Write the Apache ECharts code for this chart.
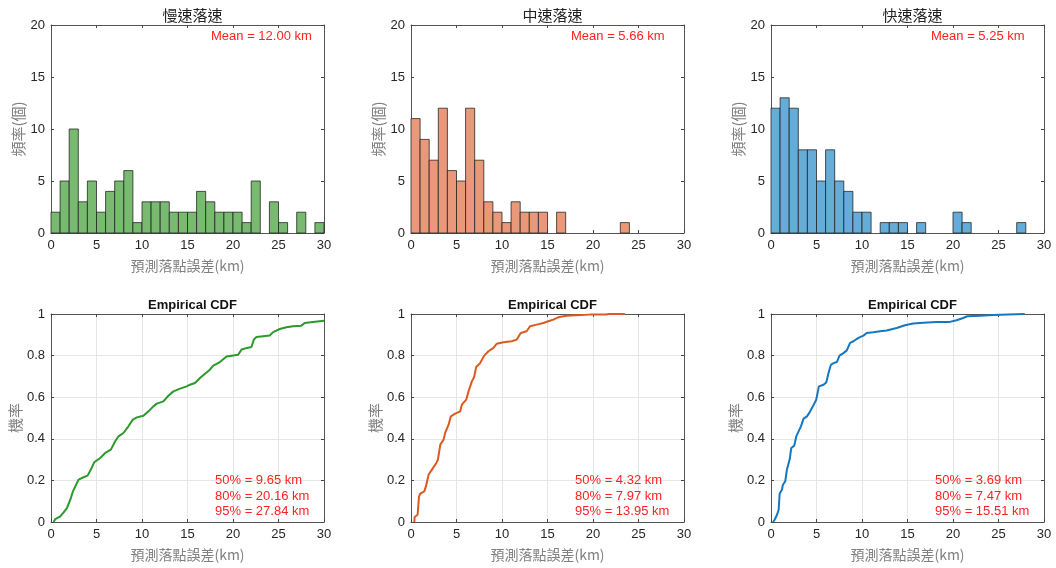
<!DOCTYPE html>
<html>
<head>
<meta charset="utf-8">
<title>落點誤差</title>
<script src="https://cdn.jsdelivr.net/npm/echarts@6/dist/echarts.min.js"></script>
<style>
  html, body { margin: 0; padding: 0; background: #fff; }
  #chart { width: 1056px; height: 568px; }
</style>
</head>
<body>
<div id="chart"></div>
<script>
// histogram bins (left edge, width 1 km)
var binLeft = [0, 1, 2, 3, 4, 5, 6, 7, 8, 9, 10, 11, 12, 13, 14, 15, 16, 17, 18, 19, 20, 21, 22, 23, 24, 25, 26, 27, 28, 29];
var slowCounts = [2, 5, 10, 3, 5, 2, 4, 5, 6, 1, 3, 3, 3, 2, 2, 2, 4, 3, 2, 2, 2, 1, 5, 0, 3, 1, 0, 2, 0, 1];
var mediumCounts = [11, 9, 7, 12, 6, 5, 12, 7, 3, 2, 1, 3, 2, 2, 2, 0, 2, 0, 0, 0, 0, 0, 0, 1, 0, 0, 0, 0, 0, 0];
var fastCounts = [12, 13, 12, 8, 8, 5, 8, 5, 4, 2, 2, 0, 1, 1, 1, 0, 1, 0, 0, 0, 2, 1, 0, 0, 0, 0, 0, 1, 0, 0];

// empirical CDF
var slowCdfX = [0.29, 0.47, 1.02, 1.39, 1.75, 2.12, 2.41, 2.67, 3.03, 3.58, 4.02, 4.38, 4.75, 5.41, 5.96, 6.58, 7.05, 7.42, 7.96, 8.51, 8.99, 9.43, 10.16, 10.71, 11.25, 11.62, 12.35, 12.9, 13.45, 14.18, 14.91, 15.27, 15.82, 16.37, 16.92, 17.46, 17.83, 18.56, 19.29, 20.02, 20.57, 20.94, 21.56, 22.03, 22.29, 22.58, 23.31, 24.04, 24.41, 25.14, 25.87, 26.6, 27.51, 27.88, 28.79, 30];
var slowCdfY = [0.0, 0.014, 0.027, 0.046, 0.067, 0.107, 0.147, 0.171, 0.204, 0.215, 0.223, 0.252, 0.287, 0.308, 0.332, 0.348, 0.388, 0.412, 0.428, 0.46, 0.492, 0.503, 0.511, 0.532, 0.556, 0.569, 0.58, 0.607, 0.628, 0.641, 0.652, 0.66, 0.668, 0.692, 0.713, 0.732, 0.752, 0.769, 0.796, 0.801, 0.804, 0.829, 0.837, 0.841, 0.877, 0.889, 0.893, 0.897, 0.913, 0.928, 0.936, 0.941, 0.944, 0.957, 0.962, 0.968];
var mediumCdfX = [0.37, 0.4, 0.73, 0.88, 1.02, 1.46, 1.64, 1.94, 2.3, 2.78, 2.96, 3.22, 3.58, 3.76, 4.13, 4.38, 4.86, 5.41, 5.59, 6.07, 6.32, 6.69, 6.94, 7.16, 7.6, 8.04, 8.51, 9.06, 9.43, 10.16, 11.07, 11.62, 12.06, 12.71, 13.08, 13.81, 14.54, 15.09, 15.64, 16.29, 17.1, 19.66, 21.48, 21.7, 23.5];
var mediumCdfY = [0.0, 0.024, 0.035, 0.123, 0.136, 0.147, 0.171, 0.228, 0.252, 0.284, 0.3, 0.372, 0.396, 0.428, 0.468, 0.508, 0.521, 0.532, 0.564, 0.588, 0.628, 0.676, 0.697, 0.745, 0.764, 0.8, 0.821, 0.837, 0.857, 0.864, 0.869, 0.877, 0.909, 0.917, 0.941, 0.949, 0.957, 0.965, 0.973, 0.986, 0.992, 0.997, 0.998, 1, 1];
var fastCdfX = [0.22, 0.4, 0.66, 0.84, 0.95, 1.2, 1.31, 1.57, 1.75, 2.05, 2.23, 2.56, 2.78, 3.03, 3.29, 3.58, 3.95, 4.24, 4.6, 4.97, 5.26, 5.77, 6.07, 6.32, 6.58, 6.87, 7.23, 7.53, 7.96, 8.33, 8.69, 9.06, 9.6, 10.16, 10.52, 11.25, 11.98, 12.71, 13.81, 14.72, 15.64, 16.73, 18.19, 19.66, 20.39, 21.12, 21.56, 22.95, 24.41, 26.05, 27.88];
var fastCdfY = [0.0, 0.011, 0.035, 0.059, 0.136, 0.155, 0.179, 0.196, 0.252, 0.3, 0.356, 0.367, 0.412, 0.436, 0.46, 0.497, 0.508, 0.527, 0.556, 0.588, 0.652, 0.66, 0.671, 0.716, 0.756, 0.764, 0.769, 0.8, 0.812, 0.825, 0.861, 0.869, 0.885, 0.896, 0.909, 0.912, 0.917, 0.921, 0.933, 0.946, 0.954, 0.958, 0.962, 0.962, 0.97, 0.981, 0.989, 0.992, 0.995, 0.998, 1];

var panelTitles = ['慢速落速', '中速落速', '快速落速'];
var meanLabels = ['Mean = 12.00 km', 'Mean = 5.66 km', 'Mean = 5.25 km'];
var pctLabels = [
    ['50% = 9.65 km', '80% = 20.16 km', '95% = 27.84 km'],
    ['50% = 4.32 km', '80% = 7.97 km', '95% = 13.95 km'],
    ['50% = 3.69 km', '80% = 7.47 km', '95% = 15.51 km']
];

var ChartPage = function () {
    var sans = 'Liberation Sans, Arial, sans-serif';
    var cjk = 'Noto Sans CJK TC, sans-serif';
    var histFill = ['#78ba70', '#e9987a', '#66acd8'];
    var lineCol = ['#2b9a2b', '#dd5a1e', '#1477c0'];
    var colLeft = [51, 411, 771];
    var rowTop = [25, 314];
    var gw = 273, gh = 208;

    var _build = function () {
        var dom = document.getElementById('chart');
        var chart = echarts.init(dom, null, { renderer: 'canvas' });

        var grids = [], xAxes = [], yAxes = [], series = [], titles = [], graphics = [];
        var counts = [slowCounts, mediumCounts, fastCounts];
        var cdfX = [slowCdfX, mediumCdfX, fastCdfX];
        var cdfY = [slowCdfY, mediumCdfY, fastCdfY];

        for (var r = 0; r < 2; r++) {
            for (var c = 0; c < 3; c++) {
                var g = grids.length;
                grids.push({ left: colLeft[c], top: rowTop[r], width: gw, height: gh });
                var isCdf = r == 1;
                var lineStyle = { color: '#555', width: 1 };
                var tickStyle = { show: true, inside: true, length: 3, lineStyle: { color: '#444' } };
                var splitStyle = { show: isCdf, lineStyle: { color: '#e6e6e6', width: 1 } };

                xAxes.push({
                    gridIndex: g, type: 'value', min: 0, max: 30, interval: 5, position: 'bottom',
                    name: '預測落點誤差(km)', nameLocation: 'middle', nameGap: 26,
                    nameTextStyle: { color: '#808080', fontSize: 14, fontFamily: cjk },
                    axisLine: { show: true, onZero: false, lineStyle: lineStyle },
                    axisTick: tickStyle,
                    axisLabel: { color: '#262626', fontSize: 13, fontFamily: sans, margin: 6 },
                    splitLine: splitStyle
                });
                xAxes.push({
                    gridIndex: g, type: 'value', min: 0, max: 30, interval: 5, position: 'top',
                    axisLine: { show: true, onZero: false, lineStyle: lineStyle },
                    axisTick: tickStyle, axisLabel: { show: false }, splitLine: { show: false }
                });
                yAxes.push({
                    gridIndex: g, type: 'value', min: 0, max: isCdf ? 1 : 20, interval: isCdf ? 0.2 : 5,
                    position: 'left',
                    name: isCdf ? '機率' : '頻率(個)', nameLocation: 'middle', nameGap: isCdf ? 28 : 25,
                    nameRotate: 90,
                    nameTextStyle: { color: '#808080', fontSize: 15, fontFamily: cjk },
                    axisLine: { show: true, onZero: false, lineStyle: lineStyle },
                    axisTick: tickStyle,
                    axisLabel: { color: '#262626', fontSize: 13, fontFamily: sans, margin: 6 },
                    splitLine: splitStyle
                });
                yAxes.push({
                    gridIndex: g, type: 'value', min: 0, max: isCdf ? 1 : 20, interval: isCdf ? 0.2 : 5,
                    position: 'right',
                    axisLine: { show: true, onZero: false, lineStyle: lineStyle },
                    axisTick: tickStyle, axisLabel: { show: false }, splitLine: { show: false }
                });

                var xi = xAxes.length - 2, yi = yAxes.length - 2;
                if (!isCdf) {
                    var hist = [];
                    for (var i = 0; i < binLeft.length; i++) {
                        if (counts[c][i] > 0) hist.push([binLeft[i], binLeft[i] + 1, counts[c][i]]);
                    }
                    series.push({
                        type: 'custom', xAxisIndex: xi, yAxisIndex: yi, data: hist,
                        renderItem: (function (fill) {
                            return function (params, api) {
                                var p0 = api.coord([api.value(0), api.value(2)]);
                                var p1 = api.coord([api.value(1), 0]);
                                return {
                                    type: 'rect',
                                    shape: { x: p0[0], y: p0[1], width: p1[0] - p0[0], height: p1[1] - p0[1] },
                                    style: { fill: fill, stroke: 'rgba(30,30,30,0.75)', lineWidth: 1 }
                                };
                            };
                        })(histFill[c])
                    });
                    titles.push({
                        text: panelTitles[c], left: colLeft[c] + gw / 2, top: 3, textAlign: 'center',
                        textStyle: { fontSize: 15, fontWeight: 'normal', color: '#222', fontFamily: cjk }
                    });
                    graphics.push({
                        type: 'text', left: colLeft[c] + 160, top: 30, z: 100,
                        style: { text: meanLabels[c], fill: '#ff2222', font: '13px ' + sans }
                    });
                } else {
                    var pts = [];
                    for (var k = 0; k < cdfX[c].length; k++) pts.push([cdfX[c][k], cdfY[c][k]]);
                    series.push({
                        type: 'line', xAxisIndex: xi, yAxisIndex: yi, data: pts,
                        showSymbol: false, smooth: false,
                        lineStyle: { color: lineCol[c], width: 2 }
                    });
                    titles.push({
                        text: 'Empirical CDF', left: colLeft[c] + gw / 2, top: 294, textAlign: 'center',
                        textStyle: { fontSize: 13, fontWeight: 'bold', color: '#111', fontFamily: sans }
                    });
                    for (var j = 0; j < 3; j++) {
                        graphics.push({
                            type: 'text', left: colLeft[c] + 164, top: 474 + j * 15.5, z: 100,
                            style: { text: pctLabels[c][j], fill: '#ff2222', font: '13px ' + sans }
                        });
                    }
                }
            }
        }

        var option = {
            animation: false,
            backgroundColor: '#fff',
            title: titles,
            grid: grids,
            xAxis: xAxes,
            yAxis: yAxes,
            series: series,
            graphic: graphics
        };

        if (option && typeof option === 'object') {
            chart.setOption(option);
        }
        window.addEventListener('resize', chart.resize);
    };

    return {
        init: function () {
            _build();
        }
    }
}();

document.addEventListener('DOMContentLoaded', function () {
    ChartPage.init();
});
</script>
</body>
</html>
